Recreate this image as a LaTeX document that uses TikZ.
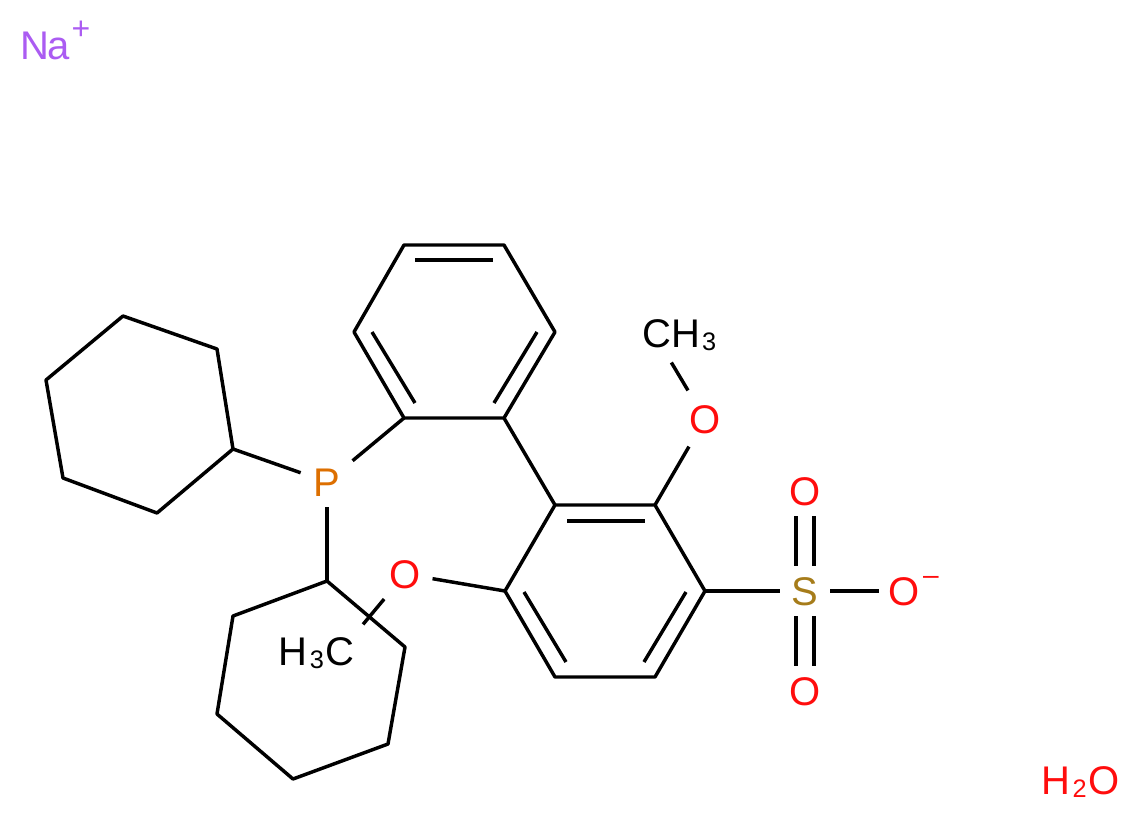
\documentclass[tikz,border=0pt]{standalone}
\usepackage{fontspec}
\setmainfont{Liberation Sans}
\definecolor{naviolet}{HTML}{AB5CF2}
\definecolor{porange}{HTML}{DD6F00}
\definecolor{sgold}{HTML}{A67C1A}
\definecolor{ored}{HTML}{FF0D0D}
\newcommand{\sbs}[1]{\kern1.5pt\raisebox{-2.2pt}{\fontsize{19}{19}\selectfont #1}\kern1.5pt}
\tikzset{
  bond/.style={line width=2.6pt,line cap=butt,line join=round},
  atom/.style={circle,inner sep=0pt,minimum size=37.5pt,font=\fontsize{30}{30}\selectfont,text height=21.5pt,text depth=0pt},
  label/.style={inner sep=0pt,font=\fontsize{30}{30}\selectfont,text height=21.5pt,text depth=0pt},
  charge/.style={inner sep=0pt,font=\fontsize{24}{24}\selectfont}
}
\begin{document}
\begin{tikzpicture}[x=.75pt,y=-.75pt]
\useasboundingbox (0,0) rectangle (1140,819);
% carbon positions
\foreach \n/\x/\y in {a1/404/245,a2/504/245,a3/555/332,a4/504/418,a5/404/418,a6/354/332,
  b1/555/505,b2/655/505,b3/705/591,b4/655/677,b5/555/677,b6/505/591,
  c1/233/449,c2/217/349,c3/123/316,c4/46/380,c5/63/478,c6/157/513,
  d1/327/581,d2/233/616,d3/217/714,d4/293/779,d5/388/744,d6/405/647,
  i1/415/260,i2/493/260,i3/372/332,i4/415/403,i5/537/332,i6/494/403,
  j1/567/521,j2/645/521,j3/686/592,j4/644/662,j5/524/592,j6/566/662}
  \coordinate (\n) at (\x,\y);
% hetero atoms
\node[atom,text=porange] (P) at (327,482) {P};
\node[atom,text=ored] (O1) at (705,419) {O};
\node[atom,text=ored] (O2) at (405,574) {O};
\node[atom,text=sgold] (S) at (805,591) {S};
\node[atom,text=ored] (O3) at (805,491) {O};
\node[atom,text=ored] (O4) at (805,691) {O};
\node[atom,text=ored] (O5) at (904,591) {O};
\node[charge,text=ored,font=\fontsize{21}{21}\selectfont] (minus) at (931,580) {–};
\node[label,anchor=west] (me1) at (642,333) {CH\sbs{3}};
\node[label,anchor=east] (me2) at (355,651) {H\sbs{3}C};
\node[label,anchor=west,text=naviolet] (na) at (20,45) {N\kern-1pt a};
\node[charge,text=naviolet] (plus) at (81,30) {+};
\node[label,anchor=east,text=ored] (water) at (1120,780) {H\sbs{2}O};
% rings
\draw[bond] (a1) -- (a2) -- (a3) -- (a4) -- (a5) -- (a6) -- cycle;
\draw[bond] (i1) -- (i2);
\draw[bond] (i3) -- (i4);
\draw[bond] (i5) -- (i6);
\draw[bond] (b1) -- (b2) -- (b3) -- (b4) -- (b5) -- (b6) -- cycle;
\draw[bond] (j1) -- (j2);
\draw[bond] (j3) -- (j4);
\draw[bond] (j5) -- (j6);
\draw[bond] (a4) -- (b1);
\draw[bond] (c1) -- (c2) -- (c3) -- (c4) -- (c5) -- (c6) -- cycle;
\draw[bond] (d1) -- (d2) -- (d3) -- (d4) -- (d5) -- (d6) -- cycle;
% phosphine
\draw[bond,shorten >=6pt] (a5) -- (P);
\draw[bond,shorten >=2pt] (c1) -- (P);
\draw[bond] (d1) -- (P);
% methoxy groups
\draw[bond,shorten >=5pt] (b2) -- (O1);
\draw[bond,shorten <=6pt,shorten >=24pt] (O1) -- ([xshift=9.75pt,yshift=-1.5pt]me1.west);
\draw[bond,shorten >=2pt] (b6) -- (O2);
\draw[bond,shorten <=5.5pt,shorten >=27pt] (O2) -- ([xshift=-11.25pt,yshift=-.75pt]me2.east);
% sulfonate
\draw[bond] (b3) -- (S);
\draw[bond] (S) -- (O5);
\draw[bond] ([xshift=-6.75pt]S.north) -- ([xshift=-6.75pt]O3.south);
\draw[bond] ([xshift=6.75pt]S.north) -- ([xshift=6.75pt]O3.south);
\draw[bond] ([xshift=-6.75pt]S.south) -- ([xshift=-6.75pt]O4.north);
\draw[bond] ([xshift=6.75pt]S.south) -- ([xshift=6.75pt]O4.north);
\end{tikzpicture}
\end{document}
